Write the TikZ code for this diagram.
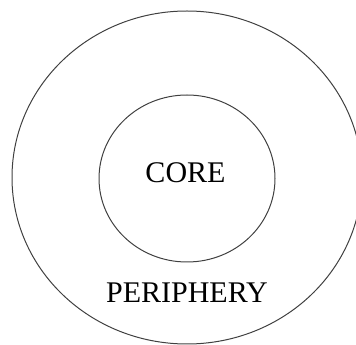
\documentclass[tikz,border=0pt]{standalone}
\usepackage{fontspec}
\setmainfont{Liberation Serif}
\begin{document}
\begin{tikzpicture}[x=1pt,y=1pt,
  ring/.style={draw=black!75,line width=1pt},
  lbl/.style={font=\fontsize{30}{34}\selectfont,inner sep=0pt,text=black}]
\clip (0,0) rectangle (356,345);
\useasboundingbox (0,0) rectangle (356,345);
\draw[ring] (187,167.5) ellipse [x radius=175,y radius=166.5];
\draw[ring] (187,166.5) ellipse [x radius=88,y radius=83.5];
\node[lbl] (core) at (185.5,172) {CORE};
\node[lbl] (peri) at (187,52) {PERIPHERY};
\end{tikzpicture}
\end{document}
